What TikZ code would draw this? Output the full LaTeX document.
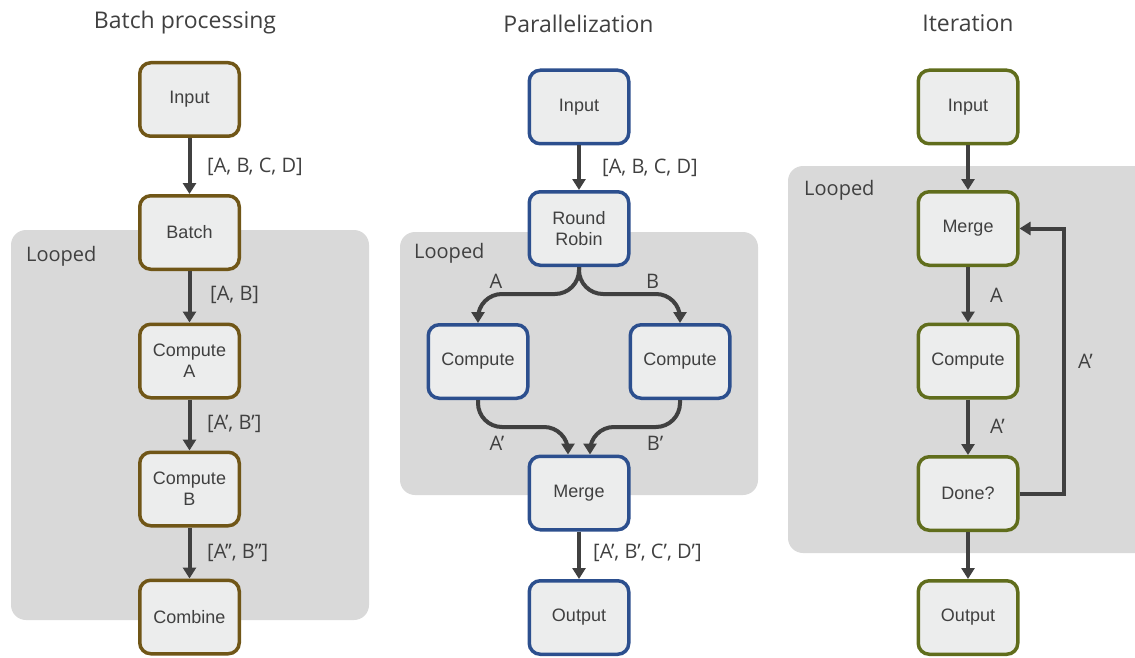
\documentclass[tikz,border=0pt]{standalone}
\usepackage{fontspec}
\setmainfont{Open Sans}
\newfontfamily\boxfont{Liberation Sans}
\usetikzlibrary{arrows.meta}
\definecolor{brownc}{HTML}{705617}
\definecolor{bluec}{HTML}{2C4F8E}
\definecolor{olivec}{HTML}{606D1C}
\definecolor{loopbg}{HTML}{D9D9D9}
\definecolor{boxfill}{HTML}{ECEDED}
\definecolor{darkc}{HTML}{404040}
\begin{document}
\begin{tikzpicture}[x=1pt,y=-1pt,
  stage/.style={rectangle, rounded corners=11pt, minimum width=99.5pt, minimum height=73.5pt,
    line width=3.5pt, fill=boxfill, align=center, inner sep=0pt, text=darkc,
    font=\boxfont\fontsize{18}{21}\selectfont},
  bstage/.style={stage, draw=brownc},
  ustage/.style={stage, draw=bluec},
  ostage/.style={stage, draw=olivec},
  loopreg/.style={fill=loopbg, rounded corners=15pt},
  looplbl/.style={anchor=west, inner sep=0pt, text=darkc, font=\fontsize{20}{24}\selectfont},
  elbl/.style={inner sep=0pt, text=darkc, font=\fontsize{20}{24}\selectfont},
  ttl/.style={inner sep=0pt, text=darkc, font=\fontsize{23}{27}\selectfont},
  arr/.style={draw=darkc, line width=4pt, -{Triangle[length=11pt,width=13pt]}},
  arrc/.style={arr, rounded corners=24pt}
]
\useasboundingbox (0,0) rectangle (1135,658);
\clip (0,0) rectangle (1135,658);

% looped regions
\fill[loopreg] (11,230) rectangle (369,620);
\fill[loopreg] (400,232) rectangle (758,495);
\fill[loopreg] (788,166) rectangle (1160,553);

% titles
\node[ttl] (t1) at (185,23) {Batch processing};
\node[ttl] (t2) at (578.5,24) {Parallelization};
\node[ttl] (t3) at (968,23) {Iteration};

% looped labels
\node[looplbl] (lp1) at (26,256) {Looped};
\node[looplbl] (lp2) at (414,253.5) {Looped};
\node[looplbl] (lp3) at (804,190.5) {Looped};

% batch processing
\node[bstage] (LIn)  at (189.5,99.5) {Input};
\node[bstage] (LBat) at (189.5,232.5) {Batch};
\node[bstage] (LCA)  at (189.5,361) {Compute\\A};
\node[bstage] (LCB)  at (189.5,489) {Compute\\B};
\node[bstage] (LCo)  at (189.5,617) {Combine};

\draw[arr] (LIn) -- (LBat);
\draw[arr] (LBat) -- (LCA);
\draw[arr] (LCA) -- (LCB);
\draw[arr] (LCB) -- (LCo);

\node[elbl, anchor=west] (l1) at (207,167) {[A, B, C, D]};
\node[elbl, anchor=west] (l2) at (210,295) {[A, B]};
\node[elbl, anchor=west] (l3) at (207,424) {[A’, B’]};
\node[elbl, anchor=west] (l4) at (207,553) {[A’’, B’’]};

% parallelization
\node[ustage] (MIn) at (579,107) {Input};
\node[ustage] (MRR) at (579,228.5) {Round\\Robin};
\node[ustage] (MC1) at (478,361.5) {Compute};
\node[ustage] (MC2) at (680,361.5) {Compute};
\node[ustage] (MMe) at (579,493) {Merge};
\node[ustage] (MOu) at (579,617.5) {Output};

\coordinate (me1) at ([xshift=-11pt]MMe.north);
\coordinate (me2) at ([xshift=11pt]MMe.north);

\draw[arr] (MIn) -- (MRR);
\draw[arrc] (MRR.south) -- ++(0,27) -| (MC1.north);
\draw[arrc] (MRR.south) -- ++(0,27) -| (MC2.north);
\draw[arrc] (MC1.south) -- ++(0,27) -| (me1);
\draw[arrc] (MC2.south) -- ++(0,27) -| (me2);
\draw[arr] (MMe) -- (MOu);

\node[elbl, anchor=west] (m1) at (602,167.5) {[A, B, C, D]};
\node[elbl] (m2) at (496,281.5) {A};
\node[elbl] (m3) at (652.5,281.5) {B};
\node[elbl] (m4) at (497,443.5) {A’};
\node[elbl] (m5) at (655,443.5) {B’};
\node[elbl, anchor=west] (m6) at (593,553) {[A’, B’, C’, D’]};

% iteration
\node[ostage] (RIn) at (968,107) {Input};
\node[ostage] (RMe) at (968,228.5) {Merge};
\node[ostage] (RCo) at (968,361) {Compute};
\node[ostage] (RDo) at (968,493.5) {Done?};
\node[ostage] (ROu) at (968,617.5) {Output};

\draw[arr] (RIn) -- (RMe);
\draw[arr] (RMe) -- (RCo);
\draw[arr] (RCo) -- (RDo);
\draw[arr] (RDo) -- (ROu);
\draw[arr] (RDo.east) -- ++(44,0) |- (RMe.east);

\node[elbl, anchor=west] (r1) at (990,295) {A};
\node[elbl, anchor=west] (r2) at (990,426) {A’};
\node[elbl, anchor=west] (r3) at (1078,361) {A’};
\end{tikzpicture}
\end{document}
